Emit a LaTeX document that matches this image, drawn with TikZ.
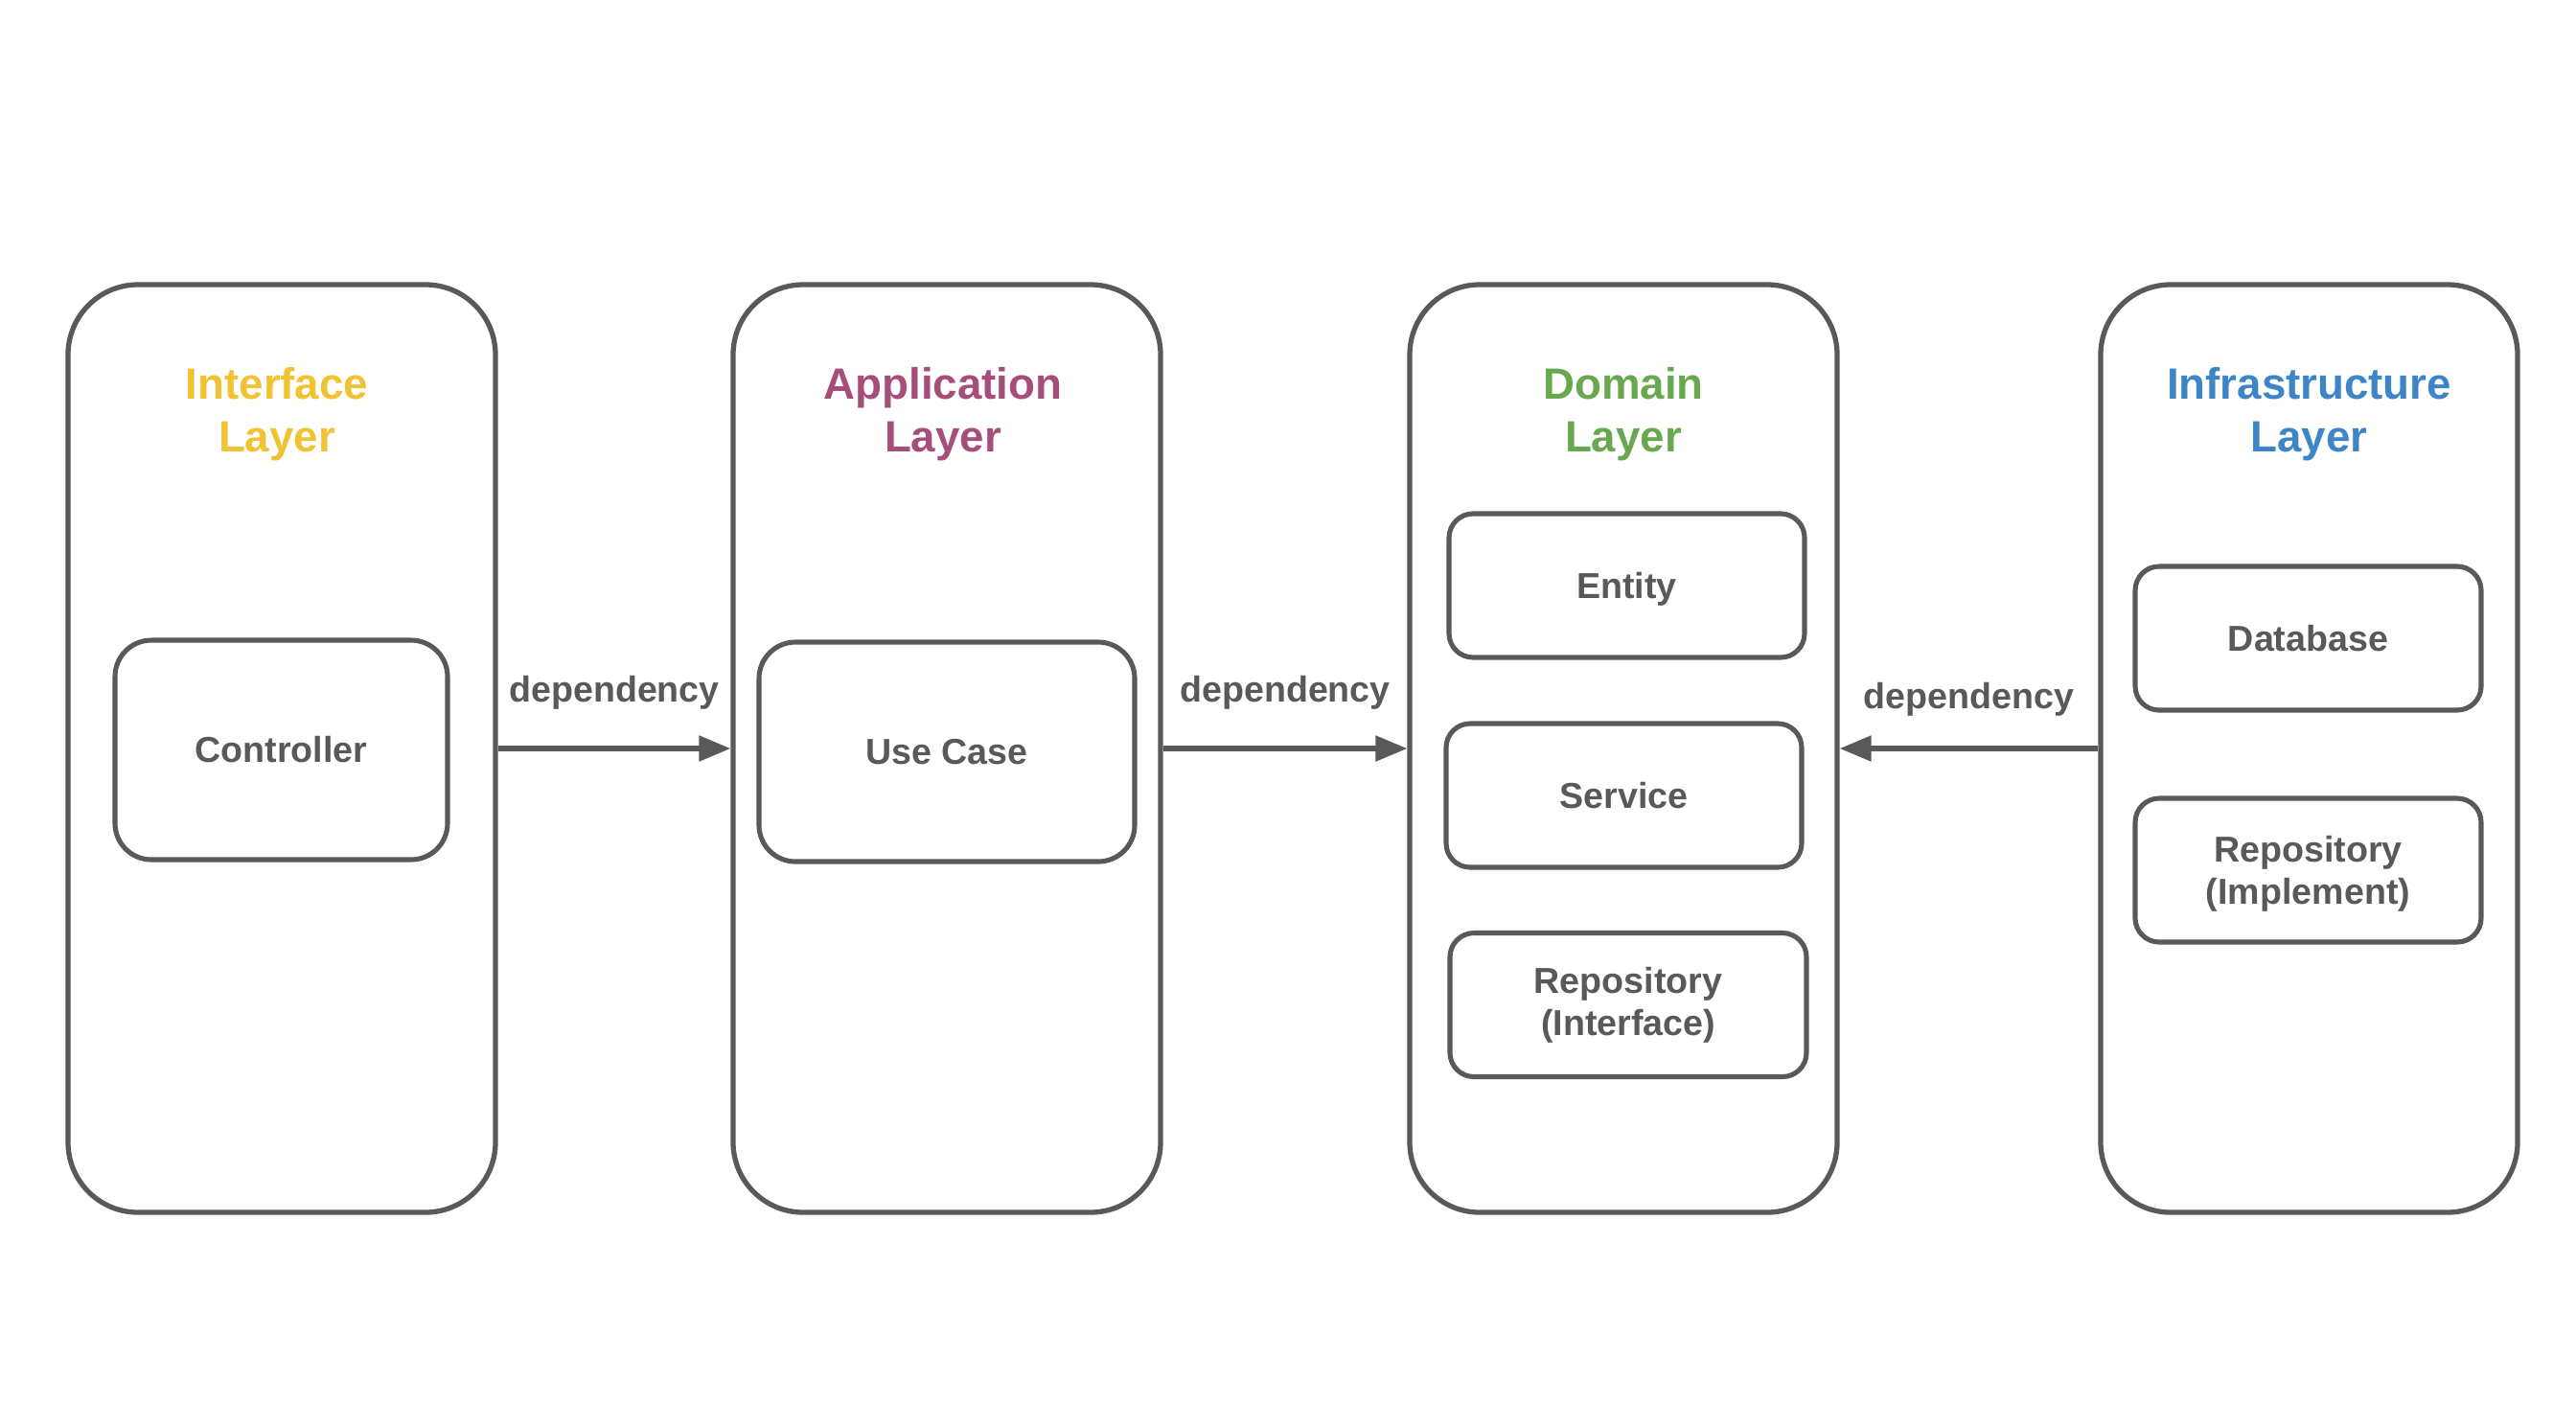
\documentclass[tikz,border=0pt]{standalone}
\usepackage{fontspec}
\setmainfont{Liberation Sans}
\usetikzlibrary{arrows.meta}

\definecolor{edge}{HTML}{595959}
\definecolor{ifacecol}{HTML}{F1C232}
\definecolor{appcol}{HTML}{A64D79}
\definecolor{domcol}{HTML}{6AA84F}
\definecolor{infracol}{HTML}{3D85C6}

\tikzset{
  layer/.style = {draw=edge, line width=1.5pt, rounded corners=0.73cm,
    minimum height=9.68cm, minimum width=4.46cm, inner sep=0pt},
  part/.style = {draw=edge, line width=1.45pt, rounded corners=0.25cm,
    minimum height=1.5cm, minimum width=3.71cm, inner sep=0pt,
    align=center, text=edge, font=\bfseries\fontsize{10.7}{12.5}\selectfont},
  layertitle/.style = {align=center, inner sep=0pt,
    font=\bfseries\fontsize{13}{15.6}\selectfont},
  dep/.style = {draw=edge, line width=1.5pt,
    -{Triangle[length=0.33cm, width=0.26cm]}},
  deplabel/.style = {above=10.8pt, inner sep=0pt, text=edge,
    font=\bfseries\fontsize{10.7}{12.5}\selectfont}
}

\begin{document}
\begin{tikzpicture}
    \useasboundingbox (0, 0) rectangle (26.88, -14.88);

    % the four layers
    \foreach \name/\x/\w/\tx/\col/\ta in {iface/2.94/4.46/2.89/ifacecol/Interface,
        app/9.88/4.46/9.84/appcol/Application, dom/16.94/4.46/16.94/domcol/Domain,
        infra/24.095/4.35/24.095/infracol/Infrastructure} {
      \node [layer, minimum width=\w cm] (\name) at (\x, -7.81) {};
      \node [layertitle, text=\col] (\name-title) at (\tx, -4.32) {\ta\\Layer};
    }

    \node [part, minimum width=3.47cm, minimum height=2.29cm, rounded corners=0.38cm]
      (ctrl) at (2.935, -7.825) {Controller};
    \node [part, minimum width=3.92cm, minimum height=2.29cm, rounded corners=0.38cm]
      (usecase) at (9.88, -7.845) {Use Case};

    \node [part, text depth=0pt] (entity) at (16.975, -6.11) {Entity};
    \node [part] (service) at (16.945, -8.30) {Service};
    \node [part, minimum width=3.72cm] (repoif) at (16.99, -10.485) {Repository\\(Interface)};

    \node [part, minimum width=3.61cm] (db) at (24.085, -6.66) {Database};
    \node [part, minimum width=3.61cm, text depth=0pt] (repoimpl) at (24.085, -9.08) {Repository\\(Implement)};

    % dependencies
    \draw [dep] (iface.east) -- node [deplabel] {dependency} (app.west);
    \draw [dep] (app.east) -- node [deplabel] {dependency} (dom.west);
    \draw [dep] (infra.west) -- node [deplabel, yshift=-2pt] {dependency} (dom.east);
\end{tikzpicture}
\end{document}
